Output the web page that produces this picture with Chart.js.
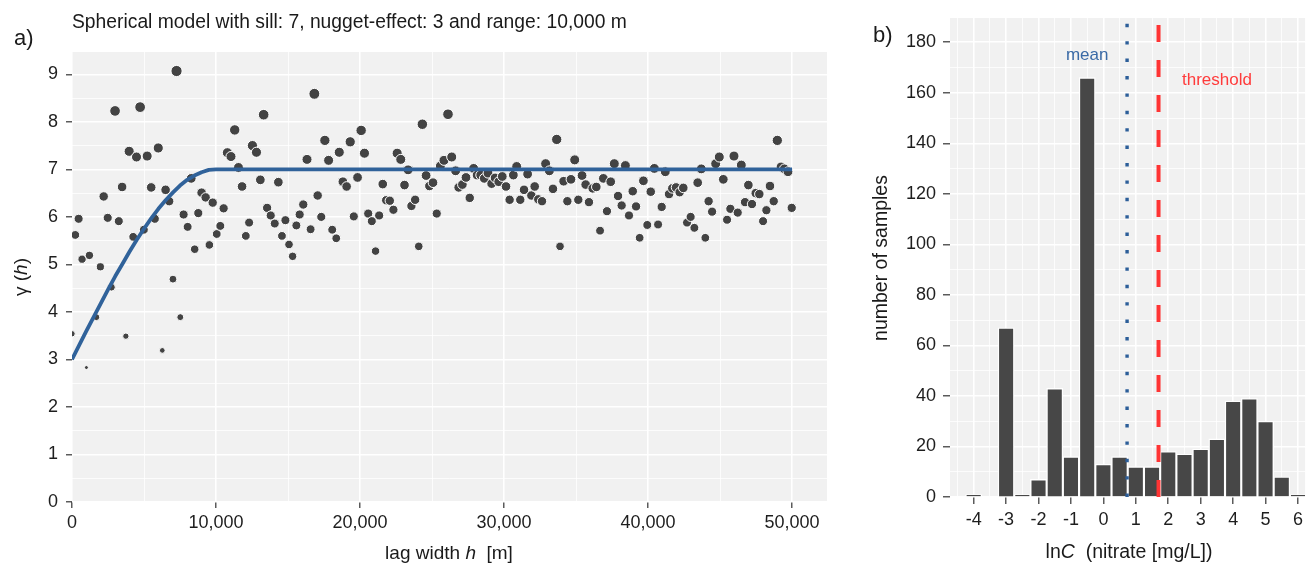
<!DOCTYPE html>
<html>
<head>
<meta charset="utf-8">
<script src="https://cdn.jsdelivr.net/npm/chart.js@4.4.1/dist/chart.umd.min.js"></script>
<style>
  body { margin: 0; background: #fff; width: 1308px; height: 566px; overflow: hidden; position: relative;
         font-family: "Liberation Sans", Arial, sans-serif; color: #1a1a1a; }
  .box { position: absolute; top: 0; height: 566px; }
  .lbl { position: absolute; white-space: nowrap; transform: translate(-50%, -50%); }
  .rot { transform: translate(-50%, -50%) rotate(-90deg); }
  .left { position: absolute; white-space: nowrap; transform: translate(0, -50%); }
</style>
</head>
<body>
<div class="box" style="left:0;width:840px"><canvas id="vario"></canvas></div>
<div class="box" style="left:840px;width:468px"><canvas id="hist"></canvas></div>

<div class="left" style="left:14px;top:38px;font-size:22px">a)</div>
<div class="left" style="left:72px;top:22px;font-size:19.3px">Spherical model with sill: 7, nugget-effect: 3 and range: 10,000 m</div>
<div class="lbl rot" style="left:21px;top:277px;font-size:19px">&gamma; (<i>h</i>)</div>
<div class="lbl" style="left:449px;top:553px;font-size:19px">lag width <i>h</i>&nbsp; [m]</div>

<div class="left" style="left:873px;top:35px;font-size:22px">b)</div>
<div class="lbl rot" style="left:880px;top:258px;font-size:19.5px">number of samples</div>
<div class="lbl" style="left:1129px;top:551px;font-size:19.5px">ln<i>C</i>&nbsp; (nitrate [mg/L])</div>

<script>
// --- panel a: empirical semivariogram ---
const lagH = [0, 230, 460, 700, 1000, 1210, 1690, 1970, 2200, 2480, 2740, 2990, 3250, 3480, 3740, 3970, 4250, 4480, 4730, 4990,
  5220, 5500, 5750, 5990, 6270, 6500, 6750, 7010, 7260, 7520, 7750, 8030, 8280, 8520, 8770, 9000, 9280, 9540, 9770, 10050,
  10300, 10530, 10790, 11040, 11300, 11560, 11810, 12070, 12300, 12530,
  12810, 13080, 13310, 13550, 13800, 14080, 14330, 14580, 14820, 15070, 15320, 15580, 15810, 16060, 16320, 16570, 16830, 17060,
  17310, 17560, 17820, 18070, 18350, 18560, 18810, 19070, 19320, 19570, 19830, 20080, 20310, 20570, 20820, 21080, 21330, 21580,
  21820, 22070, 22320, 22580, 22830, 23090, 23340, 23570, 23830, 24080, 24330, 24590, 24820, 25070, 25330,
  25580, 25830, 26110, 26370, 26640, 26850, 27110, 27360, 27620, 27890, 28130, 28380, 28630, 28890, 29140, 29380, 29630, 29880,
  30140, 30390, 30650, 30880, 31130, 31390, 31640, 31900, 32130, 32380, 32640, 32890, 33150, 33400, 33660, 33890, 34140, 34400,
  34650, 34910, 35160, 35420, 35670, 35900, 36160, 36410, 36670, 36900, 37150, 37410, 37660, 37920, 38170,
  38430, 38680, 38940, 39170, 39420, 39680, 39950, 40190, 40440, 40700, 40950, 41200, 41460, 41690, 41950, 42200, 42450, 42710,
  42960, 43220, 43450, 43700, 43980, 44210, 44450, 44700, 44950, 45230, 45490, 45720, 45970, 46230, 46480, 46740, 46970, 47220,
  47480, 47730, 47990, 48220, 48470, 48730, 48980, 49240, 49470, 49720, 49980];
const gamma = [3.54, 5.62, 5.96, 5.11, 2.83, 5.19, 3.89, 4.95, 6.43, 5.98, 4.52, 8.23, 5.91, 6.63, 3.49, 7.38, 5.58, 7.26, 8.31, 5.73,
  7.28, 6.62, 5.96, 7.45, 3.19, 6.57, 6.33, 4.69, 9.07, 3.89, 6.05, 5.79, 6.81, 5.32, 6.08, 6.51, 6.41, 5.41, 6.30, 5.64,
  5.81, 6.18, 7.35, 7.27, 7.83, 7.04, 6.64, 5.60, 5.88, 7.50,
  7.36, 6.78, 8.15, 6.19, 6.03, 5.86, 6.73, 5.60, 5.93, 5.42, 5.17, 5.82, 6.05, 6.26, 7.21, 5.74, 8.59, 6.45,
  6.00, 7.61, 7.19, 5.73, 5.55, 7.36, 6.74, 6.64, 7.58, 6.01, 6.83, 7.82, 7.34, 6.07, 5.91, 5.28, 6.03, 6.69,
  6.35, 6.34, 6.15, 7.34, 7.21, 6.67, 6.99, 6.23, 6.36, 5.38, 7.95, 6.87, 6.65, 6.72, 6.07,
  7.07, 7.19, 8.16, 7.26, 6.97, 6.62, 6.68, 6.83, 6.40, 7.02, 6.88, 6.88, 6.81, 6.92, 6.70, 6.82, 6.74, 6.85,
  6.64, 6.36, 6.88, 7.06, 6.36, 6.57, 6.90, 6.45, 6.64, 6.37, 6.33, 7.12, 6.97, 6.59, 7.63, 5.38, 6.75, 6.33,
  6.79, 7.20, 6.36, 6.87, 6.68, 6.31, 6.60, 6.63, 5.71, 6.81, 6.12, 6.74, 7.12, 6.44, 6.24,
  7.08, 6.03, 6.54, 6.22, 5.56, 6.76, 5.83, 6.53, 7.02, 5.84, 6.21, 6.95, 6.48, 6.60, 6.62, 6.52, 6.61, 5.88,
  6.00, 5.77, 6.72, 7.01, 5.56, 6.33, 6.11, 7.12, 7.26, 6.79, 5.94, 6.17, 7.28, 6.09, 7.09, 6.31, 6.67, 6.27,
  6.50, 6.48, 5.91, 6.14, 6.65, 6.33, 7.61, 7.05, 7.01, 6.95, 6.19];

// fitted spherical model (sill 7, nugget 3, range 10,000 m)
const modelH = [0, 500, 1000, 1500, 2000, 2500, 3000, 3500, 4000, 4500, 5000, 5500, 6000, 6500, 7000, 7500, 8000, 8500, 9000, 9500, 10000, 50000];
const modelGamma = [3.00, 3.30, 3.60, 3.89, 4.18, 4.47, 4.75, 5.01, 5.27, 5.52, 5.75, 5.97, 6.17, 6.35, 6.51, 6.66, 6.78, 6.87, 6.94, 6.99, 7.00, 7.00];

// x grid of panel a: labelled every 10,000, minor lines in between
const lagTicks = [0, 5000, 10000, 15000, 20000, 25000, 30000, 35000, 40000, 45000, 50000];

// --- panel b: histogram of ln(nitrate) ---
const binMid = [-4, -3, -2.5, -2, -1.5, -1, -0.5, 0, 0.5, 1, 1.5, 2, 2.5, 3, 3.5, 4, 4.5, 5, 5.5, 6];
const counts = [1, 67, 1, 7, 43, 16, 166, 13, 16, 12, 12, 18, 17, 19, 23, 38, 39, 30, 8, 1];
const meanLnC = 0.73;
const thresholdLnC = 1.70;
const noteText = ['mean', 'threshold'];
const noteX = [-0.5, 3.5];
const noteY = [175, 165];

const FONT = '"Liberation Sans", Arial, sans-serif';

const panelBg = {
  id: 'panelBg',
  beforeDraw(chart) {
    const {ctx, chartArea: a} = chart;
    ctx.save();
    ctx.fillStyle = '#f1f1f1';
    ctx.fillRect(a.left, a.top, a.width, a.height);
    ctx.restore();
  }
};

function grid(isMajor, tl) {
  return {
    color: '#ffffff',
    lineWidth: c => (c.tick && isMajor(c.tick.value)) ? 1.6 : 0.8,
    tickLength: tl,
    tickWidth: 1.2,
    tickColor: c => (c.tick && isMajor(c.tick.value)) ? '#333333' : 'rgba(0,0,0,0)'
  };
}

// variogram
const gMin = Math.min(...gamma), gMax = Math.max(...gamma);
new Chart(document.getElementById('vario'), {
  type: 'scatter',
  data: {
    datasets: [{
      type: 'line',
      data: modelH.map((h, i) => ({x: h, y: modelGamma[i]})),
      borderColor: '#30629a',
      borderWidth: 3.8,
      pointRadius: 0,
      tension: 0,
      borderJoinStyle: 'round',
      order: 0
    }, {
      data: lagH.map((h, i) => ({x: h, y: gamma[i]})),
      backgroundColor: '#434343',
      borderColor: '#ffffff',
      borderWidth: 1,
      // point size grows with the semivariance, as in the original
      pointRadius: c => 2 + 3.6 * Math.sqrt((c.raw.y - gMin) / (gMax - gMin)),
      order: 1
    }]
  },
  options: {
    responsive: true,
    maintainAspectRatio: false,
    animation: false,
    events: [],
    layout: {padding: {top: 52, right: 13, left: 0, bottom: 0}},
    plugins: {legend: {display: false}, tooltip: {enabled: false}},
    scales: {
      x: {
        type: 'linear', min: 0, max: 52430,
        border: {display: false},
        grid: grid(v => v % 10000 === 0, 6),
        afterBuildTicks: s => { s.ticks = lagTicks.map(v => ({value: v})); },
        afterFit: s => { s.height = 64; },
        ticks: {
          autoSkip: false, maxRotation: 0, padding: 4,
          color: '#1e1e1e', font: {family: FONT, size: 18},
          callback: v => v % 10000 === 0 ? v.toLocaleString('en-US') : ''
        }
      },
      y: {
        min: 0, max: 9.47,
        border: {display: false},
        grid: grid(v => Number.isInteger(v), 6),
        afterFit: s => { s.width = 72; },
        ticks: {
          stepSize: 0.5, includeBounds: false, autoSkip: false, padding: 8,
          color: '#1e1e1e', font: {family: FONT, size: 18},
          callback: v => Number.isInteger(v) ? String(v) : ''
        }
      }
    }
  },
  plugins: [panelBg]
});

// histogram
const yTop = 189.6;
const notes = {
  id: 'notes',
  afterDatasetsDraw(chart) {
    const {ctx, scales: {x, y}} = chart;
    const colors = ['#3a6aa6', '#ff3b3b'];
    ctx.save();
    ctx.font = '17px ' + FONT;
    ctx.textAlign = 'center';
    ctx.textBaseline = 'middle';
    noteText.forEach((t, i) => {
      ctx.fillStyle = colors[i];
      ctx.fillText(t, x.getPixelForValue(noteX[i]), y.getPixelForValue(noteY[i]));
    });
    ctx.restore();
  }
};

new Chart(document.getElementById('hist'), {
  type: 'bar',
  data: {
    datasets: [{
      type: 'line',
      data: [{x: meanLnC, y: 0}, {x: meanLnC, y: yTop}],
      borderColor: '#2c5e99',
      borderWidth: 3.4,
      borderDash: [3.4, 14],
      pointRadius: 0,
      order: 0
    }, {
      type: 'line',
      data: [{x: thresholdLnC, y: 0}, {x: thresholdLnC, y: yTop}],
      borderColor: '#ff3434',
      borderWidth: 4,
      borderDash: [17, 18],
      pointRadius: 0,
      order: 0
    }, {
      type: 'bar',
      data: binMid.map((b, i) => ({x: b, y: counts[i]})),
      backgroundColor: '#474747',
      borderColor: '#ffffff',
      borderWidth: 1.4,
      barPercentage: 1,
      categoryPercentage: 1,
      order: 2
    }]
  },
  options: {
    responsive: true,
    maintainAspectRatio: false,
    animation: false,
    events: [],
    layout: {padding: {top: 18, right: 0, left: 0, bottom: 0}},
    plugins: {legend: {display: false}, tooltip: {enabled: false}},
    scales: {
      x: {
        type: 'linear', min: -4.73, max: 6.22, offset: false,
        border: {display: false},
        grid: Object.assign(grid(v => Number.isInteger(v), 7), {offset: false}),
        afterFit: s => { s.height = 69; },
        ticks: {
          stepSize: 0.5, includeBounds: false, autoSkip: false, maxRotation: 0, padding: 5,
          color: '#1e1e1e', font: {family: FONT, size: 18},
          callback: v => Number.isInteger(v) ? String(v) : ''
        }
      },
      y: {
        min: 0, max: yTop,
        border: {display: false},
        grid: grid(v => v % 20 === 0, 7),
        afterFit: s => { s.width = 110; },
        ticks: {
          stepSize: 10, includeBounds: false, autoSkip: false, padding: 7,
          color: '#1e1e1e', font: {family: FONT, size: 18},
          callback: v => v % 20 === 0 ? String(v) : ''
        }
      }
    }
  },
  plugins: [panelBg, notes]
});
</script>
</body>
</html>
